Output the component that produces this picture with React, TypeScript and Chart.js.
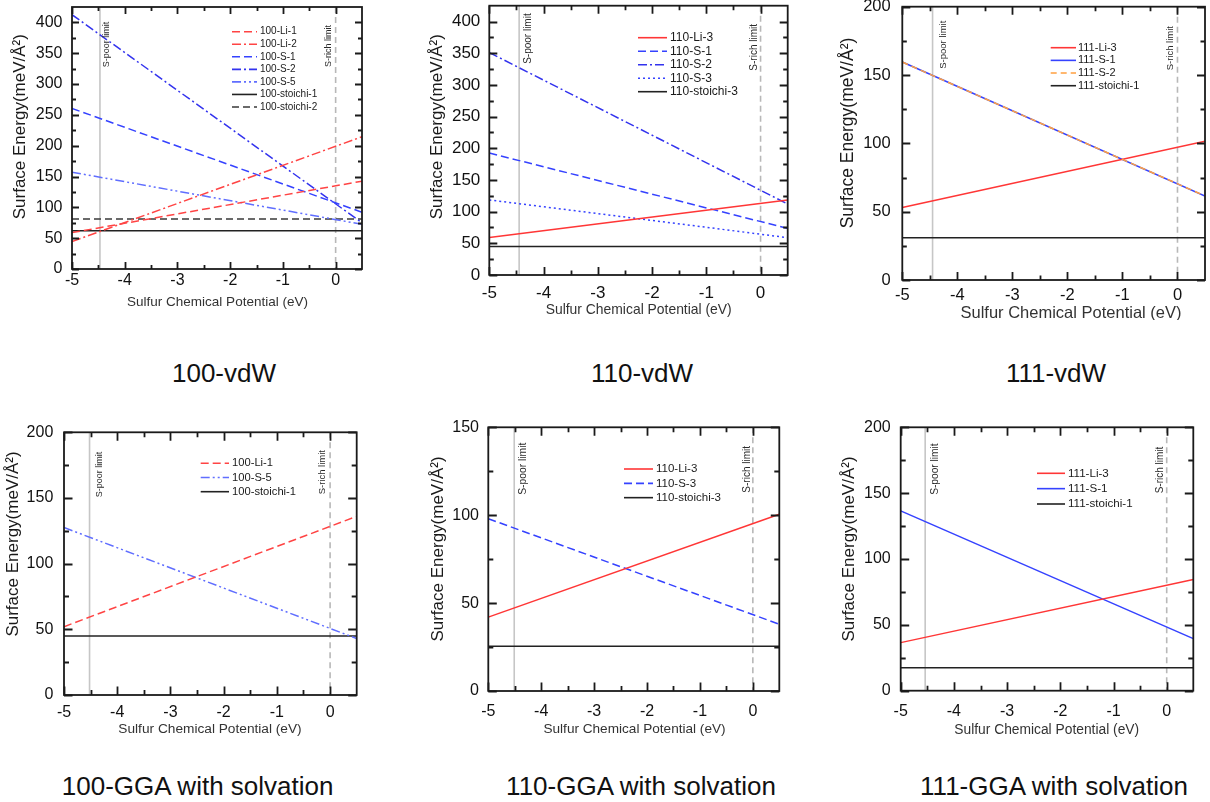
import React, { useEffect, useRef } from "react";
import { Chart, registerables } from "chart.js";

Chart.register(...registerables);

const FONT = '"Liberation Sans", Arial, Helvetica, sans-serif';
Chart.defaults.font.family = FONT;

// ---------------- data ----------------
const X_ENDS = [-5, 0.5];
const X_TICKS = [-5, -4, -3, -2, -1, 0];
const Y_TICKS_400 = [0, 50, 100, 150, 200, 250, 300, 350, 400];
const Y_TICKS_200 = [0, 50, 100, 150, 200];
const Y_TICKS_150 = [0, 50, 100, 150];

// 100-vdW
const vdw100Labels = ["100-Li-1", "100-Li-2", "100-S-1", "100-S-2", "100-S-5", "100-stoichi-1", "100-stoichi-2"];
const vdw100Li1 = [59, 142.5];
const vdw100Li2 = [44.5, 214.5];
const vdw100S1 = [260.5, 92];
const vdw100S2 = [412.5, 75];
const vdw100S5 = [157, 72.5];
const vdw100St1 = [62, 62];
const vdw100St2 = [81, 81];
const vdw100Limits = [-4.47, 0];

// 110-vdW
const vdw110Labels = ["110-Li-3", "110-S-1", "110-S-2", "110-S-3", "110-stoichi-3"];
const vdw110Li3 = [59, 118.5];
const vdw110S1 = [192.5, 73.5];
const vdw110S2 = [351, 112];
const vdw110S3 = [118.5, 59];
const vdw110St3 = [45, 45];
const vdw110Limits = [-4.45, 0];

// 111-vdW
const vdw111Labels = ["111-Li-3", "111-S-1", "111-S-2", "111-stoichi-1"];
const vdw111Li3 = [53, 101.5];
const vdw111S1 = [159.5, 61.5];
const vdw111S2 = [159.5, 61.5];
const vdw111St1 = [31, 31];
const vdw111Limits = [-4.45, 0];

// 100-GGA with solvation
const gga100Labels = ["100-Li-1", "100-S-5", "100-stoichi-1"];
const gga100Li1 = [52, 136];
const gga100S5 = [127.5, 43];
const gga100St1 = [45, 45];
const gga100Limits = [-4.52, 0];

// 110-GGA with solvation
const gga110Labels = ["110-Li-3", "110-S-3", "110-stoichi-3"];
const gga110Li3 = [42, 100.5];
const gga110S3 = [98, 38];
const gga110St3 = [25.5, 25.5];
const gga110Limits = [-4.51, 0];

// 111-GGA with solvation
const gga111Labels = ["111-Li-3", "111-S-1", "111-stoichi-1"];
const gga111Li3 = [36.5, 84.5];
const gga111S1 = [136.5, 39.5];
const gga111St1 = [17.5, 17.5];
const gga111Limits = [-4.54, 0];

const captionTexts = ["100-vdW", "110-vdW", "111-vdW", "100-GGA with solvation", "110-GGA with solvation", "111-GGA with solvation"];

// ---------------- styles / layout ----------------
type LineStyle = { color: string; dash: number[] };
const STY: Record<string, LineStyle> = {
  redSolid: { color: "#ff3636", dash: [] },
  redDash: { color: "#ff4444", dash: [8, 4] },
  redDashDot: { color: "#ff4444", dash: [9, 3, 2, 3] },
  blueSolid: { color: "#3542ff", dash: [] },
  blueDash: { color: "#3542ff", dash: [8, 4] },
  blueDashDot: { color: "#3333ee", dash: [9, 3, 2, 3] },
  blueDashDotDot: { color: "#606eff", dash: [9, 3, 2, 3, 2, 3] },
  blueDot: { color: "#3542ff", dash: [2, 3] },
  orangeDash: { color: "#ffa040", dash: [6, 4] },
  blackSolid: { color: "#222222", dash: [] },
  blackDash: { color: "#3a3a3a", dash: [7, 4] },
};

interface PanelCfg {
  labels: string[];
  values: number[][];
  styles: string[];
  order?: number[];
  yMax: number;
  yTicks: number[];
  limits: number[];
  canvas: number[]; // x, y, w, h (page)
  plot: number[]; // l, t, r, b (page)
  tickFont: number;
  xTickPad: number;
  yTickPad: number;
  yTitle: number[]; // x, y, size
  xTitle: number[]; // x, y, size
  major: number;
  minor: number;
  poorLabel: number[]; // dx, top, size
  richLabel: number[];
  legend: number[]; // x0, x1, textX, y0, dy, size
}

const PANELS: PanelCfg[] = [
  {
    labels: vdw100Labels,
    values: [vdw100Li1, vdw100Li2, vdw100S1, vdw100S2, vdw100S5, vdw100St1, vdw100St2],
    styles: ["redDash", "redDashDot", "blueDash", "blueDashDot", "blueDashDotDot", "blackSolid", "blackDash"],
    yMax: 425, yTicks: Y_TICKS_400, limits: vdw100Limits,
    canvas: [0, 0, 400, 320], plot: [72, 7, 362, 269],
    tickFont: 16, xTickPad: 2.4, yTickPad: 9.5,
    yTitle: [20, 126.7, 17], xTitle: [217.5, 302, 13.5],
    major: 7, minor: 4,
    poorLabel: [6.5, 21.7, 9], richLabel: [-6.7, 25, 9],
    legend: [232, 257, 260, 31.7, 12.55, 10],
  },
  {
    labels: vdw110Labels,
    values: [vdw110Li3, vdw110S1, vdw110S2, vdw110S3, vdw110St3],
    styles: ["redSolid", "blueDash", "blueDashDot", "blueDot", "blackSolid"],
    yMax: 425, yTicks: Y_TICKS_400, limits: vdw110Limits,
    canvas: [400, 0, 400, 320], plot: [489.3, 5.7, 787.7, 275],
    tickFont: 17, xTickPad: 7.8, yTickPad: 9,
    yTitle: [437.7, 126.7, 17], xTitle: [638.7, 310, 13.9],
    major: 8, minor: 4.5,
    poorLabel: [9, 13.3, 10], richLabel: [-6, 24, 10],
    legend: [638, 667, 670, 37.7, 13.5, 12],
  },
  {
    labels: vdw111Labels,
    values: [vdw111Li3, vdw111S1, vdw111S2, vdw111St1],
    styles: ["redSolid", "blueSolid", "orangeDash", "blackSolid"],
    order: [0, 0, -1, 0],
    yMax: 200, yTicks: Y_TICKS_200, limits: vdw111Limits,
    canvas: [800, 0, 410, 320], plot: [902.3, 6.7, 1205, 280],
    tickFont: 16.5, xTickPad: 5.1, yTickPad: 11.6,
    yTitle: [848.3, 133, 17.5], xTitle: [1071, 313, 16.5],
    major: 8, minor: 4.5,
    poorLabel: [10.6, 20.7, 9.5], richLabel: [-6.7, 26, 9.5],
    legend: [1050.7, 1076, 1078, 47.7, 12.67, 11],
  },
  {
    labels: gga100Labels,
    values: [gga100Li1, gga100S5, gga100St1],
    styles: ["redDash", "blueDashDotDot", "blackSolid"],
    yMax: 200, yTicks: Y_TICKS_200, limits: gga100Limits,
    canvas: [0, 400, 400, 360], plot: [64, 432.3, 356.7, 695],
    tickFont: 16, xTickPad: 8.4, yTickPad: 10.7,
    yTitle: [13.3, 544, 17], xTitle: [210, 729.3, 13.7],
    major: 8.5, minor: 5,
    poorLabel: [10, 451.7, 9], richLabel: [-7.6, 450, 9.5],
    legend: [200.7, 229, 232, 463.3, 14.2, 11.2],
  },
  {
    labels: gga110Labels,
    values: [gga110Li3, gga110S3, gga110St3],
    styles: ["redSolid", "blueDash", "blackSolid"],
    yMax: 150, yTicks: Y_TICKS_150, limits: gga110Limits,
    canvas: [400, 400, 400, 360], plot: [488.3, 427.3, 779.3, 691],
    tickFont: 16, xTickPad: 11.1, yTickPad: 9.3,
    yTitle: [438.3, 549, 17], xTitle: [634.5, 729.3, 13.6],
    major: 8.5, minor: 5,
    poorLabel: [9, 442.7, 10.3], richLabel: [-6, 446, 10],
    legend: [624, 653, 656, 469, 14.33, 11.5],
  },
  {
    labels: gga111Labels,
    values: [gga111Li3, gga111S1, gga111St1],
    styles: ["redSolid", "blueSolid", "blackSolid"],
    yMax: 200, yTicks: Y_TICKS_200, limits: gga111Limits,
    canvas: [800, 400, 410, 360], plot: [900.7, 427.3, 1193.3, 690.7],
    tickFont: 16, xTickPad: 11.4, yTickPad: 10,
    yTitle: [849.3, 549, 17], xTitle: [1046.7, 730, 13.8],
    major: 8.5, minor: 5,
    poorLabel: [10, 443.3, 10.2], richLabel: [-6, 446.7, 10],
    legend: [1037, 1065, 1068, 473.3, 15.35, 11.6],
  },
];

const CAPTION_POS = [
  [224, 373], [642, 373], [1056, 373],
  [197.6, 786], [641, 786], [1054, 786],
];

const Y_TITLE = "Surface Energy(meV/Å²)";
const X_TITLE = "Sulfur Chemical Potential (eV)";

function makeDecor(cfg: PanelCfg) {
  const ox = cfg.canvas[0];
  const oy = cfg.canvas[1];
  return {
    id: "decor",
    beforeDatasetsDraw(chart: any) {
      const { ctx, chartArea: a, scales } = chart;
      const xs = scales.x;
      cfg.limits.forEach((v, i) => {
        const px = xs.getPixelForValue(v);
        ctx.save();
        ctx.strokeStyle = i === 0 ? "#c6c6c6" : "#b8b8b8";
        ctx.lineWidth = 1.6;
        ctx.setLineDash(i === 0 ? [] : [6, 4]);
        ctx.beginPath();
        ctx.moveTo(px, a.top);
        ctx.lineTo(px, a.bottom);
        ctx.stroke();
        ctx.restore();
      });
    },
    afterDatasetsDraw(chart: any) {
      const { ctx, chartArea: a, scales } = chart;
      const xs = scales.x;
      const ys = scales.y;
      ctx.save();
      ctx.setLineDash([]);
      ctx.strokeStyle = "#1a1a1a";
      ctx.lineCap = "butt";

      // inward tick marks on all four sides
      const xMinor: number[] = [];
      for (let i = 0; i < X_TICKS.length - 1; i++) xMinor.push((X_TICKS[i] + X_TICKS[i + 1]) / 2);
      const yMinor: number[] = [];
      for (let v = 25; v < cfg.yMax; v += 50) yMinor.push(v);
      ctx.lineWidth = 1.8;
      ctx.beginPath();
      const addX = (vals: number[], len: number) => {
        for (const v of vals) {
          const px = Math.round(xs.getPixelForValue(v)) + 0.5;
          ctx.moveTo(px, a.bottom);
          ctx.lineTo(px, a.bottom - len);
          ctx.moveTo(px, a.top);
          ctx.lineTo(px, a.top + len);
        }
      };
      const addY = (vals: number[], len: number) => {
        for (const v of vals) {
          const py = Math.round(ys.getPixelForValue(v)) + 0.5;
          ctx.moveTo(a.left, py);
          ctx.lineTo(a.left + len, py);
          ctx.moveTo(a.right, py);
          ctx.lineTo(a.right - len, py);
        }
      };
      addX(X_TICKS, cfg.major);
      addX(xMinor, cfg.minor);
      addY(cfg.yTicks, cfg.major);
      addY(yMinor, cfg.minor);
      ctx.stroke();

      // frame
      ctx.lineWidth = 1.8;
      ctx.strokeRect(a.left, a.top, a.right - a.left, a.bottom - a.top);

      // limit labels
      const limitText = ["S-poor limit", "S-rich limit"];
      const limitPos = [cfg.poorLabel, cfg.richLabel];
      cfg.limits.forEach((v, i) => {
        const px = xs.getPixelForValue(v) + limitPos[i][0];
        const top = limitPos[i][1] - oy;
        ctx.save();
        ctx.translate(px, top);
        ctx.rotate(-Math.PI / 2);
        ctx.fillStyle = "#2a2a2a";
        ctx.font = `${limitPos[i][2]}px ${FONT}`;
        ctx.textAlign = "right";
        ctx.textBaseline = "middle";
        ctx.fillText(limitText[i], 0, 0);
        ctx.restore();
      });

      // legend
      const [lx0, lx1, tx, ly0, ldy, lsize] = cfg.legend;
      chart.data.datasets.forEach((ds: any, i: number) => {
        const ly = ly0 + ldy * i - oy;
        ctx.save();
        ctx.strokeStyle = ds.borderColor;
        ctx.lineWidth = 1.6;
        ctx.setLineDash(ds.borderDash || []);
        ctx.beginPath();
        ctx.moveTo(lx0 - ox, ly);
        ctx.lineTo(lx1 - ox, ly);
        ctx.stroke();
        ctx.restore();
        ctx.fillStyle = "#1a1a1a";
        ctx.font = `${lsize}px ${FONT}`;
        ctx.textAlign = "left";
        ctx.textBaseline = "middle";
        ctx.fillText(ds.label, tx - ox, ly);
      });

      // axis titles
      ctx.fillStyle = "#1a1a1a";
      ctx.save();
      ctx.translate(cfg.yTitle[0] - ox, cfg.yTitle[1] - oy);
      ctx.rotate(-Math.PI / 2);
      ctx.font = `${cfg.yTitle[2]}px ${FONT}`;
      ctx.textAlign = "center";
      ctx.textBaseline = "middle";
      ctx.fillText(Y_TITLE, 0, 0);
      ctx.restore();
      ctx.fillStyle = "#333333";
      ctx.font = `${cfg.xTitle[2]}px ${FONT}`;
      ctx.textAlign = "center";
      ctx.textBaseline = "middle";
      ctx.fillText(X_TITLE, cfg.xTitle[0] - ox, cfg.xTitle[1] - oy);
      ctx.restore();
    },
  };
}

function buildConfig(cfg: PanelCfg): any {
  const [cx, cy, w, h] = cfg.canvas;
  const [pl, pt, pr, pb] = cfg.plot;
  return {
    type: "line",
    data: {
      datasets: cfg.labels.map((lab, i) => ({
        label: lab,
        data: X_ENDS.map((xv, j) => ({ x: xv, y: cfg.values[i][j] })),
        borderColor: STY[cfg.styles[i]].color,
        borderDash: STY[cfg.styles[i]].dash,
        borderWidth: 1.5,
        pointRadius: 0,
        fill: false,
        tension: 0,
        order: cfg.order ? cfg.order[i] : 0,
      })),
    },
    options: {
      animation: false,
      responsive: false,
      devicePixelRatio: 1,
      events: [],
      layout: { padding: { left: 0, top: pt - cy, right: cx + w - pr, bottom: 0 } },
      plugins: { legend: { display: false }, tooltip: { enabled: false }, title: { display: false } },
      scales: {
        x: {
          type: "linear",
          min: -5,
          max: 0.5,
          grid: { display: false, drawTicks: false },
          border: { display: false },
          ticks: {
            font: { size: cfg.tickFont, family: FONT },
            color: "#111",
            padding: cfg.xTickPad,
            maxRotation: 0,
            autoSkip: false,
            callback: (v: any) => String(v),
          },
          afterBuildTicks: (s: any) => {
            s.ticks = X_TICKS.map((v) => ({ value: v }));
          },
          afterFit: (s: any) => {
            s.height = cy + h - pb;
            s.paddingLeft = 0;
            s.paddingRight = 0;
          },
        },
        y: {
          type: "linear",
          min: 0,
          max: cfg.yMax,
          grid: { display: false, drawTicks: false },
          border: { display: false },
          ticks: {
            font: { size: cfg.tickFont, family: FONT },
            color: "#111",
            padding: cfg.yTickPad,
            autoSkip: false,
            callback: (v: any) => String(v),
          },
          afterBuildTicks: (s: any) => {
            s.ticks = cfg.yTicks.map((v) => ({ value: v }));
          },
          afterFit: (s: any) => {
            s.width = pl - cx;
            s.paddingTop = 0;
            s.paddingBottom = 0;
          },
        },
      },
    },
    plugins: [makeDecor(cfg)],
  };
}

function Panel({ cfg }: { cfg: PanelCfg }) {
  const ref = useRef<HTMLCanvasElement>(null);
  useEffect(() => {
    if (!ref.current) return;
    const chart = new Chart(ref.current, buildConfig(cfg));
    return () => chart.destroy();
  }, [cfg]);
  const [x, y, w, h] = cfg.canvas;
  return (
    <canvas
      ref={ref}
      width={w}
      height={h}
      style={{ position: "absolute", left: x, top: y, width: w, height: h }}
    />
  );
}

export default function App() {
  return (
    <div
      style={{
        position: "absolute",
        left: 0,
        top: 0,
        width: 1210,
        height: 802,
        background: "#ffffff",
        overflow: "hidden",
        fontFamily: FONT,
      }}
    >
      {PANELS.map((p, i) => (
        <Panel key={i} cfg={p} />
      ))}
      {captionTexts.map((t, i) => (
        <div
          key={t}
          style={{
            position: "absolute",
            left: CAPTION_POS[i][0] - 200,
            top: CAPTION_POS[i][1] - 15,
            width: 400,
            textAlign: "center",
            fontSize: 26,
            lineHeight: "30px",
            color: "#111",
            whiteSpace: "nowrap",
          }}
        >
          {t}
        </div>
      ))}
    </div>
  );
}
